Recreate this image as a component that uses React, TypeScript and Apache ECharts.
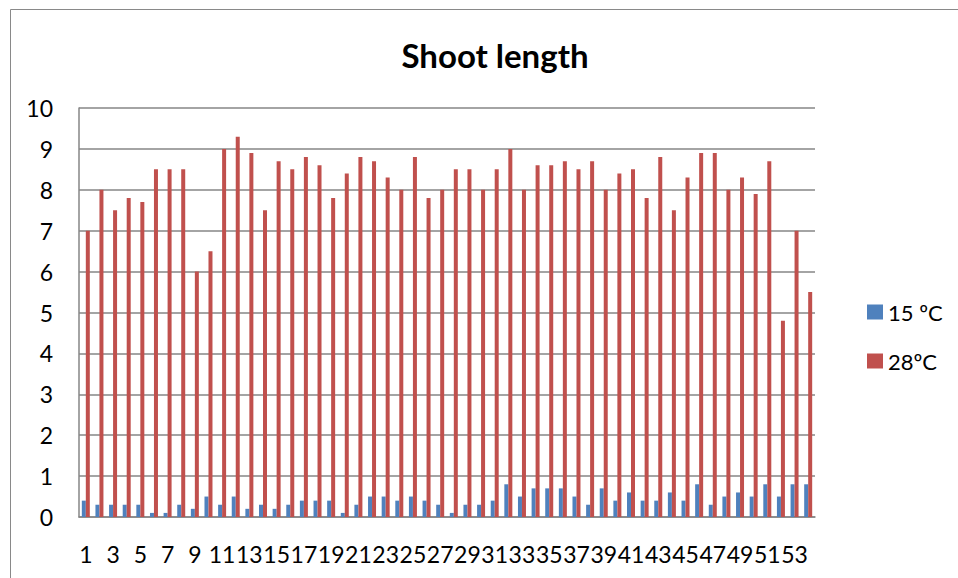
import React, { useEffect, useRef } from "react";
import * as echarts from "echarts";

const categories: string[] = Array.from({ length: 54 }, (_, i) => String(i + 1));

const series15: number[] = [
  0.4, 0.3, 0.3, 0.3, 0.3, 0.1, 0.1, 0.3, 0.2, 0.5,
  0.3, 0.5, 0.2, 0.3, 0.2, 0.3, 0.4, 0.4, 0.4, 0.1,
  0.3, 0.5, 0.5, 0.4, 0.5, 0.4, 0.3, 0.1, 0.3, 0.3,
  0.4, 0.8, 0.5, 0.7, 0.7, 0.7, 0.5, 0.3, 0.7, 0.4,
  0.6, 0.4, 0.4, 0.6, 0.4, 0.8, 0.3, 0.5, 0.6, 0.5,
  0.8, 0.5, 0.8, 0.8,
];

const series28: number[] = [
  7.0, 8.0, 7.5, 7.8, 7.7, 8.5, 8.5, 8.5, 6.0, 6.5,
  9.0, 9.3, 8.9, 7.5, 8.7, 8.5, 8.8, 8.6, 7.8, 8.4,
  8.8, 8.7, 8.3, 8.0, 8.8, 7.8, 8.0, 8.5, 8.5, 8.0,
  8.5, 9.0, 8.0, 8.6, 8.6, 8.7, 8.5, 8.7, 8.0, 8.4,
  8.5, 7.8, 8.8, 7.5, 8.3, 8.9, 8.9, 8.0, 8.3, 7.9,
  8.7, 4.8, 7.0, 5.5,
];

const seriesNames: string[] = ["15 ºC", "28ºC"];
const titleText = "Shoot length";

const FONT = "Lato, 'Open Sans', sans-serif";

export default function App() {
  const ref = useRef<HTMLDivElement>(null);

  useEffect(() => {
    if (!ref.current) return;
    const chart = echarts.init(ref.current, undefined, { renderer: "svg" });
    chart.setOption({
      animation: false,
      backgroundColor: "#ffffff",
      textStyle: { fontFamily: FONT },
      title: {
        text: titleText,
        left: 490,
        textAlign: "center",
        top: 33,
        textStyle: { fontFamily: FONT, fontSize: 33, fontWeight: "bold", color: "#000000" },
      },
      graphic: [
        {
          type: "rect",
          shape: { x: 10.5, y: 9.5, width: 1000, height: 700 },
          style: { fill: "none", stroke: "#898989", lineWidth: 1 },
          silent: true,
        },
      ],
      legend: {
        orient: "vertical",
        left: 862,
        top: 296,
        itemWidth: 16,
        itemHeight: 15,
        itemGap: 27,
        icon: "rect",
        data: seriesNames,
        textStyle: { fontFamily: FONT, fontSize: 22, color: "#000000", lineHeight: 22 },
      },
      grid: { left: 79, top: 108, right: 143, bottom: 61, containLabel: false },
      xAxis: {
        type: "category",
        data: categories,
        axisLine: { show: true, lineStyle: { color: "#868686", width: 1.5 } },
        axisTick: { show: false },
        axisLabel: {
          interval: 1,
          margin: 25,
          hideOverlap: false,
          fontFamily: FONT,
          fontSize: 23,
          color: "#000000",
        },
        splitLine: { show: false },
      },
      yAxis: {
        type: "value",
        min: 0,
        max: 10,
        interval: 1,
        axisLine: { show: true, lineStyle: { color: "#868686", width: 1.5 } },
        axisTick: { show: false },
        axisLabel: { margin: 26, fontFamily: FONT, fontSize: 23, color: "#000000" },
        splitLine: { show: true, lineStyle: { color: "#868686", width: 1.5 } },
      },
      series: [
        {
          name: seriesNames[0],
          type: "bar",
          data: series15,
          barWidth: 4,
          barGap: "0%",
          itemStyle: { color: "#4F81BD" },
        },
        {
          name: seriesNames[1],
          type: "bar",
          data: series28,
          barWidth: 4,
          barGap: "0%",
          itemStyle: { color: "#C0504D" },
        },
      ],
    });
    return () => chart.dispose();
  }, []);

  return <div ref={ref} style={{ width: 958, height: 578, position: "absolute", left: 0, top: 0 }} />;
}
